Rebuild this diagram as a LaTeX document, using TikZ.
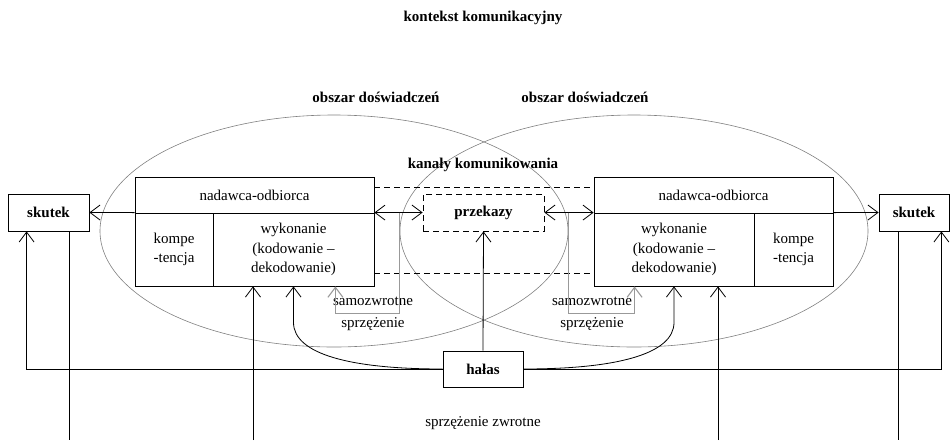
\documentclass[tikz,border=0pt]{standalone}
\usepackage{fontspec}
\setmainfont{Liberation Serif}
\usetikzlibrary{arrows.meta}
\tikzset{
  box/.style={draw, rectangle, inner sep=0pt, align=center},
  arr/.style={-{Straight Barb[length=10pt,width=15pt]}},
  arrs/.style={{Straight Barb[length=10pt,width=15pt]}-{Straight Barb[length=10pt,width=15pt]}},
  lbl/.style={inner sep=0pt, font=\fontsize{15}{19}\selectfont\bfseries},
  area/.style={draw=gray, line width=0.6pt},
  selfloop/.style={draw=gray!80, line width=1.1pt},
  dsh/.style={dash pattern=on 6pt off 4pt},
}
\begin{document}
\begin{tikzpicture}[x=1pt,y=-1pt,line width=0.8pt,font=\fontsize{15}{19.5}\selectfont]
\useasboundingbox (0,0) rectangle (951,440);
\draw[area] (334,231) ellipse [x radius=234pt, y radius=116pt];
\draw[area] (634,231) ellipse [x radius=234pt, y radius=116pt];
\path node[lbl] (ctx) at (483,18) {kontekst komunikacyjny}
node[lbl] (obL) at (376,97) {obszar doświadczeń}
node[lbl] (obR) at (585,97) {obszar doświadczeń}
node[lbl] (kan) at (483,165) {kanały komunikowania}
node[box,font=\fontsize{15}{19}\selectfont\bfseries,minimum width=81pt,minimum height=37pt] (skL) at (48.5,212.5) {skutek}
node[box,font=\fontsize{15}{19}\selectfont\bfseries,minimum width=70pt,minimum height=37pt] (skR) at (914,212.5) {skutek}
node[box,minimum width=239pt,minimum height=36pt] (hdL) at (254.5,195) {nadawca-odbiorca}
node[box,minimum width=78pt,minimum height=73pt] (kmL) at (174,249.5) {kompe\\-tencja}
node[box,minimum width=161pt,minimum height=73pt] (wkL) at (293.5,249.5) {wykonanie\\(kodowanie –\\dekodowanie)}
node[box,minimum width=239pt,minimum height=36pt] (hdR) at (713.5,195) {nadawca-odbiorca}
node[box,minimum width=160pt,minimum height=73pt] (wkR) at (674,249.5) {wykonanie\\(kodowanie –\\dekodowanie)}
node[box,minimum width=79pt,minimum height=73pt] (kmR) at (793.5,249.5) {kompe\\-tencja}
node[box,dsh,font=\fontsize{15}{19}\selectfont\bfseries,minimum width=121pt,minimum height=37pt] (prz) at (483.5,212.5) {przekazy}
node[box,font=\fontsize{15}{19}\selectfont\bfseries,minimum width=80pt,minimum height=36pt] (hal) at (483,369) {hałas}
node[align=center,inner sep=0pt,font=\fontsize{15}{22}\selectfont] (szL) at (373,314) {samozwrotne\\sprzężenie}
node[align=center,inner sep=0pt,font=\fontsize{15}{22}\selectfont] (szR) at (592,314) {samozwrotne\\sprzężenie}
node[inner sep=0pt] (szw) at (483,423) {sprzężenie zwrotne}
;
\coordinate (fbL) at (69,440);
\coordinate (fbR) at (898,440);
\coordinate (upL) at (253,440);
\coordinate (upR) at (718,440);
% kanaly
\draw[dsh] ([yshift=-11pt]hdL.north east) -- ([yshift=-11pt]hdR.north west);
\draw[dsh] ([yshift=13pt]wkL.south east) -- ([yshift=13pt]wkR.south west);
\draw[arr] (kmL.north west) -- (skL.east);
\draw[arr] (kmR.north east) -- (skR.west);
\draw[arrs] (wkL.north east) -- (prz.west);
\draw[arrs] (prz.east) -- (wkR.north west);
% halas
\draw[arr] (hal.north) -- (prz.south);
\draw[arr] (hal.west) -| ([xshift=19pt]skL.south west);
\draw[arr] (hal.east) -| ([xshift=-8pt]skR.south east);
\draw[arr] (hal.west) .. controls (350,369) and (293.5,354) .. ([yshift=-36pt]wkL.south) -- (wkL.south);
\draw[arr] (hal.east) .. controls (617,369) and (674,354) .. ([yshift=-36pt]wkR.south) -- (wkR.south);
% samozwrotne
\draw[selfloop,arr] ([xshift=25pt]wkL.north east) |- ([xshift=-39pt,yshift=-27pt]wkL.south east) -- ([xshift=-39pt]wkL.south east);
\draw[selfloop,arr] ([xshift=-25pt]wkR.north west) |- ([xshift=41pt,yshift=-27pt]wkR.south west) -- ([xshift=41pt]wkR.south west);
% zwrotne
\draw (skL.south -| fbL) -- (fbL);
\draw (skR.south -| fbR) -- (fbR);
\draw[arr] (upL) -- (upL |- wkL.south);
\draw[arr] (upR) -- (upR |- wkR.south);
\end{tikzpicture}
\end{document}
